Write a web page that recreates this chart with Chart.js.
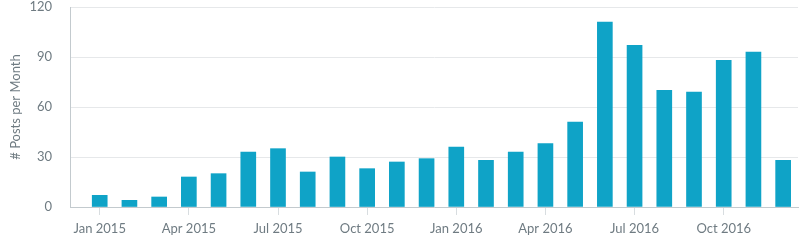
<!DOCTYPE html>
<html>
<head>
<meta charset="utf-8">
<script src="https://cdn.jsdelivr.net/npm/chart.js@4/dist/chart.umd.min.js"></script>
<style>
  html, body { margin: 0; padding: 0; background: #fff; }
  #wrap { width: 800px; height: 248px; }
</style>
</head>
<body>
<div id="wrap"><canvas id="my_chart"></canvas></div>
<script>
// monthly post counts, Jan 2015 - Dec 2016
var months = ['Jan 2015','Feb 2015','Mar 2015','Apr 2015','May 2015','Jun 2015',
              'Jul 2015','Aug 2015','Sep 2015','Oct 2015','Nov 2015','Dec 2015',
              'Jan 2016','Feb 2016','Mar 2016','Apr 2016','May 2016','Jun 2016',
              'Jul 2016','Aug 2016','Sep 2016','Oct 2016','Nov 2016','Dec 2016']
var posts = [7, 4, 6, 18, 20, 33,
             35, 21, 30, 23, 27, 29,
             36, 28, 33, 38, 51, 111,
             97, 70, 69, 88, 93, 28]
var tick_months = [0, 3, 6, 9, 12, 15, 18, 21]
var y_ticks = [0, 30, 60, 90, 120]

var grey = '#6f7b82'
Chart.defaults.font.family = 'Lato, "Open Sans", sans-serif'
Chart.defaults.font.size = 13
Chart.defaults.color = grey

var points = posts.map((v, i) => ({x: i, y: v}))

ctx = document.getElementById("my_chart");
my_chart = new Chart(ctx, {
  type: 'bar',
  data: {
    datasets: [{
      label: '# Posts per Month',
      data: points,
      backgroundColor: '#0fa3c7',
      borderWidth: 0,
      barThickness: 15
    }]
  },
  options: {
    responsive: true,
    maintainAspectRatio: false,
    animation: false,
    layout: { padding: { top: 2, right: 2, left: 0, bottom: 0 } },
    plugins: { legend: { display: false }, tooltip: { enabled: false } },
    scales: {
      x: {
        type: 'linear',
        offset: false,
        min: -1,
        max: 23.5,
        afterBuildTicks: (scale) => { scale.ticks = tick_months.map(v => ({value: v})) },
        afterFit: (scale) => { scale.height = 41 },
        ticks: {
          callback: (v) => months[v],
          maxRotation: 0,
          autoSkip: false,
          padding: 6,
          color: grey
        },
        grid: { offset: false, drawOnChartArea: false, drawTicks: true, tickLength: 8, color: '#d8dde0' },
        border: { color: '#c3cace', width: 1 }
      },
      y: {
        min: 0,
        max: 120,
        afterBuildTicks: (scale) => { scale.ticks = y_ticks.map(v => ({value: v})) },
        afterFit: (scale) => {
          scale.width = 70
          scale.paddingTop = 7
          scale.paddingBottom = 0
        },
        ticks: { padding: 18, color: grey },
        grid: { color: '#e6e8ea', drawTicks: false },
        border: { color: '#c3cace', width: 1 },
        title: {
          display: true,
          text: '# Posts per Month',
          color: grey,
          font: { size: 13 },
          padding: { top: 8, bottom: 0 }
        }
      }
    }
  }
});
</script>
</body>
</html>
